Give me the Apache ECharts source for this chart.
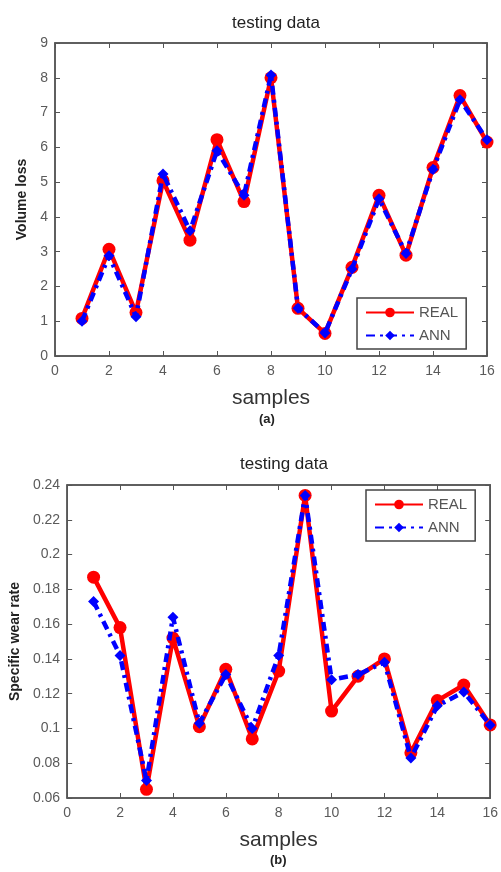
<!DOCTYPE html>
<html><head><meta charset="utf-8">
<script src="https://cdn.jsdelivr.net/npm/echarts@6/dist/echarts.min.js"></script>
<style>html,body{margin:0;padding:0;background:#fff}#c{width:501px;height:872px}</style>
</head><body><div id="c"></div>
<script>
const samples = [1,2,3,4,5,6,7,8,9,10,11,12,13,14,15,16];
const volReal = [1.08,3.07,1.25,5.04,3.33,6.22,4.44,8.0,1.37,0.65,2.55,4.62,2.9,5.42,7.49,6.15];
const volAnn  = [1.0,2.88,1.13,5.23,3.6,5.9,4.62,8.08,1.37,0.66,2.5,4.52,2.95,5.36,7.37,6.22];
const wearReal = [0.187,0.158,0.065,0.152,0.101,0.134,0.094,0.133,0.234,0.110,0.130,0.140,0.086,0.116,0.125,0.102];
const wearAnn  = [0.173,0.142,0.070,0.164,0.103,0.131,0.100,0.142,0.234,0.128,0.131,0.138,0.083,0.113,0.121,0.102];
const titles = ['testing data','testing data'];
const xName = 'samples';
const yNames = ['Volume loss','Specific wear rate'];
const seriesNames = ['REAL','ANN'];
const captions = ['(a)','(b)'];

const pair = (xs, ys) => xs.map((x,i)=>[x, ys[i]]);
const axisCol = '#555';
const font = 'Arial, "Liberation Sans", sans-serif';

function xAxes(gi){
  return [
    {gridIndex:gi, type:'value', position:'bottom', min:0, max:16, interval:2,
     name:xName, nameLocation:'middle', nameGap:32,
     nameTextStyle:{fontSize:21, color:'#333', fontFamily:font},
     axisLine:{show:true, onZero:false, lineStyle:{color:axisCol,width:1.5}},
     axisTick:{show:true, inside:true, length:5, lineStyle:{color:axisCol}},
     axisLabel:{color:'#5a5a5a', fontSize:14, fontFamily:font, margin:8},
     splitLine:{show:false}},
    {gridIndex:gi, type:'value', position:'top', min:0, max:16, interval:2,
     axisLine:{show:true, onZero:false, lineStyle:{color:axisCol,width:1.5}},
     axisTick:{show:true, inside:true, length:5, lineStyle:{color:axisCol}},
     axisLabel:{show:false}, splitLine:{show:false}}
  ];
}
function yAxes(gi, min, max, interval, nameGap){
  return [
    {gridIndex:gi, type:'value', position:'left', min:min, max:max, interval:interval,
     name:yNames[gi], nameLocation:'middle', nameGap:nameGap, nameRotate:90,
     nameTextStyle:{fontSize:14, fontWeight:'bold', color:'#222', fontFamily:font},
     axisLine:{show:true, onZero:false, lineStyle:{color:axisCol,width:1.5}},
     axisTick:{show:true, inside:true, length:5, lineStyle:{color:axisCol}},
     axisLabel:{color:'#5a5a5a', fontSize:14, fontFamily:font, margin:7},
     splitLine:{show:false}},
    {gridIndex:gi, type:'value', position:'right', min:min, max:max, interval:interval,
     axisLine:{show:true, onZero:false, lineStyle:{color:axisCol,width:1.5}},
     axisTick:{show:true, inside:true, length:5, lineStyle:{color:axisCol}},
     axisLabel:{show:false}, splitLine:{show:false}}
  ];
}
function realSeries(xi, yi, data){
  return {name:seriesNames[0], type:'line', xAxisIndex:xi, yAxisIndex:yi, data:data,
    symbol:'circle', symbolSize:13, lineStyle:{color:'#ff0000', width:4.5},
    itemStyle:{color:'#ff0000'}, z:2, animation:false};
}
function annSeries(xi, yi, data){
  return {name:seriesNames[1], type:'line', xAxisIndex:xi, yAxisIndex:yi, data:data,
    symbol:'diamond', symbolSize:11, lineStyle:{color:'#0000ff', width:4.5, type:[9,5,3,5]},
    itemStyle:{color:'#0000ff'}, z:3, animation:false};
}
const legendBase = {
  orient:'vertical', itemWidth:48, itemHeight:12, itemGap:8,
  backgroundColor:'#fff', borderColor:'#444', borderWidth:1.5, borderRadius:0,
  padding:[7,8,6,8], textStyle:{fontSize:15, color:'#555', fontFamily:font}
};

const chart = echarts.init(document.getElementById('c'));
chart.setOption({
  backgroundColor:'#fff',
  animation:false,
  title:[
    {text:titles[0], left:271, top:10, textAlign:'center', textStyle:{fontSize:17, fontWeight:'normal', color:'#222', fontFamily:font}},
    {text:titles[1], left:279, top:451, textAlign:'center', textStyle:{fontSize:17, fontWeight:'normal', color:'#222', fontFamily:font}}
  ],
  grid:[
    {left:55, top:43, width:432, height:313, show:true, borderColor:axisCol, borderWidth:1.5, backgroundColor:'transparent'},
    {left:64, top:485, width:431, height:313, show:true, borderColor:axisCol, borderWidth:1.5, backgroundColor:'transparent'}
  ],
  xAxis:[...xAxes(0), ...xAxes(1)],
  yAxis:[...yAxes(0,0,9,1,23), ...yAxes(1,0.06,0.24,0.02,37)],
  legend:[
    Object.assign({}, legendBase, {left:357, top:298, data:[seriesNames[0], seriesNames[1]]}),
    Object.assign({}, legendBase, {left:366, top:490, data:[seriesNames[0], seriesNames[1]]})
  ],
  series:[
    realSeries(0,0,pair(samples,volReal)),
    annSeries(0,0,pair(samples,volAnn)),
    realSeries(2,2,pair(samples,wearReal)),
    annSeries(2,2,pair(samples,wearAnn))
  ],
  graphic:[
    {type:'text', left:259, top:413, style:{text:captions[0], fontSize:13, fontWeight:'bold', fill:'#222', fontFamily:font}},
    {type:'text', left:270, top:854, style:{text:captions[1], fontSize:13, fontWeight:'bold', fill:'#222', fontFamily:font}}
  ]
});
</script></body></html>
